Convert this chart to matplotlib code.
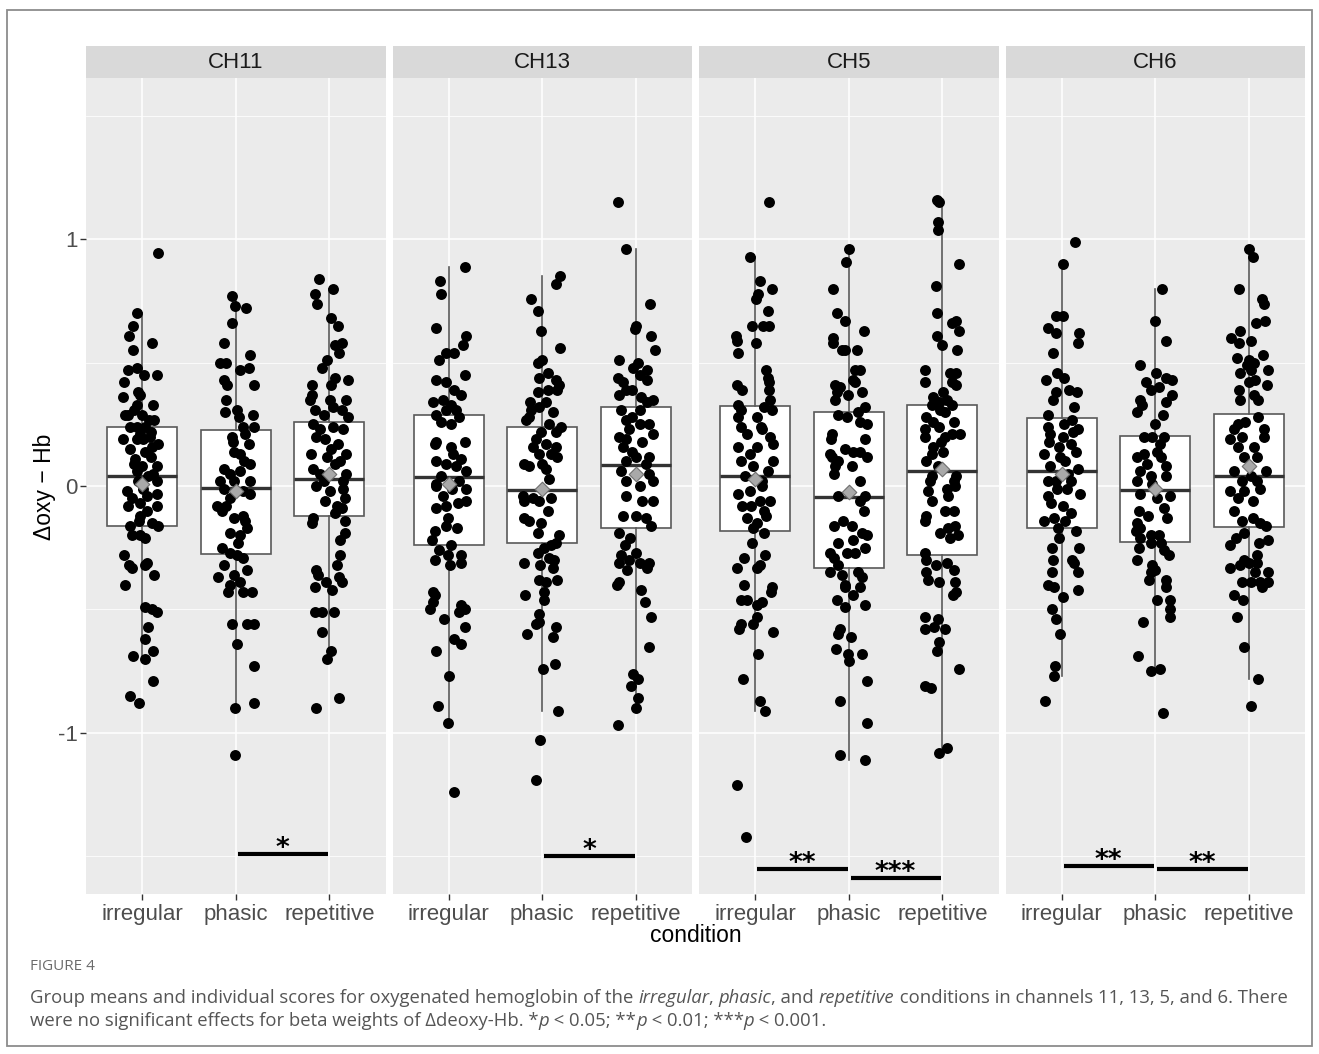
import matplotlib
matplotlib.use("Agg")
import matplotlib.pyplot as plt
from matplotlib.patches import Rectangle

channels = ["CH11", "CH13", "CH5", "CH6"]
conditions = ["irregular", "phasic", "repetitive"]

# individual scores, (jitter offset, value)
ch11_irregular = [
    (.17, .946), (-.05, .70), (-.10, .65), (-.14, .61), (.11, .58), (-.10, .55), (-.15, .47), (-.06, .48),
    (.02, .45), (.16, .45), (-.19, .42), (-.04, .38), (-.02, .37), (-.20, .36), (.12, .33), (-.06, .33),
    (-.09, .31), (-.18, .29), (-.15, .29), (0, .29), (.07, .27), (-.13, .24), (-.06, .24), (.03, .24),
    (.09, .22), (-.02, .21), (-.20, .19), (-.06, .19), (.01, .19), (.17, .17), (.10, .16), (-.13, .15),
    (.03, .14), (.09, .12), (-.09, .09), (0, .08), (.16, .08), (-.06, .06), (.12, .05), (-.04, .02),
    (.16, .02), (-.16, -.02), (.01, -.01), (.16, -.03), (.05, -.04), (-.15, -.08), (-.02, -.07), (.16, -.08),
    (.05, -.10), (-.02, -.12), (-.13, -.16), (.10, -.15), (.17, -.16), (-.11, -.20), (-.02, -.20), (.03, -.21),
    (-.19, -.28), (-.14, -.32), (-.11, -.33), (.05, -.31), (.03, -.32), (.13, -.36), (-.18, -.40), (.03, -.49),
    (.10, -.50), (.16, -.51), (.06, -.57), (.03, -.62), (.12, -.67), (-.10, -.69), (.03, -.70), (.12, -.79),
    (-.13, -.85), (-.03, -.88), (-.08, .11), (.06, .04), (-.11, -.05), (.08, .20), (-.03, -.14), (.13, .27),
]
ch11_phasic = [
    (-.04, .77), (-.01, .73), (.11, .72), (-.04, .66), (-.13, .58), (-.17, .50), (-.10, .50), (.15, .53),
    (.05, .47), (.14, .48), (-.13, .43), (-.09, .41), (.20, .41), (-.10, .35), (-.11, .30), (.01, .31),
    (.03, .28), (.18, .29), (.19, .24), (.08, .24), (.10, .21), (.14, .17), (-.04, .20), (-.02, .14),
    (.05, .13), (.15, .09), (-.13, .07), (-.06, .05), (.05, .06), (-.17, .02), (-.02, .02), (.15, .02),
    (-.13, -.01), (.08, -.02), (.15, -.03), (-.06, -.05), (-.20, -.08), (-.15, -.10), (-.02, -.13), (.08, -.12),
    (.10, -.14), (-.06, -.19), (.05, -.20), (-.15, -.25), (-.06, -.27), (.01, -.28), (.08, -.29), (-.13, -.32),
    (.12, -.34), (-.19, -.37), (-.02, -.36), (-.06, -.40), (.05, -.39), (-.08, -.43), (.08, -.43), (.17, -.43),
    (-.04, -.56), (.12, -.56), (.19, -.56), (.01, -.64), (.19, -.73), (-.01, -.90), (.19, -.88), (-.01, -1.09),
    (.09, .10), (-.10, -.08), (.12, -.17), (-.03, .18), (.02, -.23),
]
ch11_repetitive = [
    (-.11, .84), (.04, .80), (-.15, .78), (-.13, .74), (.02, .68), (.09, .65), (.06, .57), (.13, .58),
    (.10, .54), (-.03, .51), (-.08, .48), (.06, .44), (.20, .43), (.02, .41), (-.19, .41), (-.19, .37),
    (-.21, .35), (.01, .35), (.18, .35), (.04, .32), (-.15, .31), (-.06, .29), (.13, .31), (.20, .28),
    (-.17, .25), (-.10, .23), (.04, .24), (.15, .23), (-.14, .20), (-.05, .19), (.02, .15), (-.20, .13),
    (.18, .13), (.06, .09), (.11, .10), (-.17, .07), (-.10, .05), (.18, .05), (-.06, .02), (.15, .02),
    (-.14, 0), (.01, -.02), (.15, -.01), (.17, -.05), (-.05, -.06), (.08, -.08), (.13, -.09), (-.17, -.13),
    (-.19, -.15), (.06, -.11), (.17, -.14), (.17, -.19), (.11, -.22), (.11, -.28), (.08, -.32), (-.14, -.34),
    (-.12, -.36), (-.04, -.39), (.13, -.39), (.10, -.37), (-.15, -.41), (.03, -.42), (-.15, -.51), (-.08, -.51),
    (.05, -.51), (-.08, -.59), (.02, -.67), (-.02, -.70), (.10, -.86), (-.14, -.90), (-.02, .12), (.09, .17),
]
ch13_irregular = [
    (.17, .89), (-.09, .83), (-.08, .78), (-.14, .64), (.19, .61), (.15, .57), (-.03, .54), (.06, .54),
    (-.10, .51), (.17, .45), (-.14, .43), (-.03, .42), (.06, .39), (.13, .37), (-.06, .35), (-.17, .34),
    (.02, .33), (.08, .31), (-.14, .29), (-.03, .31), (.11, .28), (-.08, .26), (.02, .25), (-.14, .18),
    (.17, .18), (.02, .16), (-.15, .17), (.13, .11), (-.14, .10), (-.03, .09), (.08, .08), (.19, .06),
    (-.08, .04), (-.14, .01), (.11, .02), (-.14, 0), (.04, -.01), (.19, -.01), (-.14, -.09), (-.03, -.08),
    (.10, -.07), (.19, -.06), (-.01, -.13), (-.03, -.16), (-.15, -.18), (-.18, -.22), (.02, -.24), (-.10, -.26),
    (-.15, -.30), (-.01, -.28), (.13, -.28), (.01, -.32), (.13, -.31), (-.17, -.43), (-.15, -.44), (-.17, -.47),
    (-.20, -.50), (.13, -.48), (.11, -.51), (.17, -.50), (-.05, -.54), (.17, -.57), (.06, -.62), (.13, -.64),
    (-.14, -.67), (0, -.77), (-.11, -.89), (-.01, -.96), (.06, -1.24), (.05, .13), (-.06, -.04), (.09, -.17),
]
ch13_phasic = [
    (.19, .85), (.15, .82), (-.12, .76), (-.05, .71), (-.01, .63), (.19, .56), (-.05, .50), (0, .51),
    (.06, .46), (-.04, .44), (.15, .43), (.18, .41), (.06, .39), (-.05, .38), (.16, .39), (-.13, .34),
    (.04, .34), (-.12, .31), (-.03, .32), (.11, .30), (-.17, .27), (-.14, .28), (.20, .24), (.07, .25),
    (.15, .22), (-.01, .22), (-.07, .19), (.04, .17), (.15, .16), (-.10, .16), (-.03, .13), (.09, .13),
    (.16, .12), (-.19, .09), (-.14, .08), (0, .09), (.04, .07), (.07, .03), (-.21, -.04), (-.10, -.05),
    (.09, -.05), (-.19, -.06), (-.03, -.06), (.06, -.10), (-.19, -.13), (-.14, -.14), (-.01, -.15), (-.05, -.19),
    (.18, -.20), (.15, -.23), (.09, -.24), (.02, -.25), (-.05, -.27), (.07, -.29), (-.19, -.31), (-.02, -.32),
    (.13, -.30), (.11, -.33), (-.03, -.38), (.04, -.39), (.16, -.38), (.02, -.43), (-.18, -.44), (.02, -.46),
    (-.04, -.52), (-.07, -.56), (-.03, -.55), (-.16, -.60), (.15, -.57), (.11, -.61), (.01, -.74), (.14, -.72),
    (.17, -.91), (-.02, -1.03), (-.07, -1.19),
]
ch13_repetitive = [
    (-.19, 1.15), (-.10, .96), (.15, .74), (0, .65), (-.01, .635), (.16, .61), (.20, .55), (-.18, .51),
    (.02, .50), (-.03, .48), (.12, .47), (.04, .45), (-.19, .44), (-.14, .42), (.12, .43), (-.11, .39),
    (-.04, .39), (-.18, .37), (.05, .36), (.18, .35), (.12, .34), (-.16, .31), (.04, .31), (-.04, .28),
    (-.11, .27), (.04, .25), (.14, .25), (-.07, .23), (-.18, .20), (-.11, .19), (.07, .18), (.18, .21),
    (-.14, .16), (-.04, .14), (0, .12), (.14, .12), (-.11, .10), (.11, .09), (-.16, .06), (.14, .05),
    (-.11, .02), (.18, .02), (.04, 0), (-.11, -.04), (.07, -.06), (.18, -.06), (-.14, -.12), (0, -.12),
    (.11, -.13), (.16, -.16), (-.18, -.19), (-.06, -.21), (-.12, -.24), (-.16, -.28), (0, -.27), (-.07, -.30),
    (-.18, -.31), (.04, -.31), (.14, -.31), (-.09, -.34), (.12, -.33), (-.18, -.39), (-.20, -.40), (.06, -.42),
    (.10, -.47), (.16, -.53), (.14, -.65), (-.03, -.76), (.02, -.78), (-.05, -.81), (.02, -.86), (0, -.90),
    (-.19, -.97),
]
ch5_irregular = [
    (.15, 1.15), (-.05, .93), (.05, .83), (.18, .80), (.03, .78), (.01, .76), (.14, .71), (-.03, .65),
    (.08, .65), (.15, .65), (-.20, .61), (-.19, .59), (.01, .58), (-.18, .54), (.12, .47), (.14, .44),
    (.15, .42), (.15, .39), (-.19, .41), (-.14, .39), (-.18, .33), (-.15, .31), (.16, .35), (.09, .32),
    (.18, .31), (-.18, .28), (.02, .28), (-.15, .24), (.06, .24), (.07, .23), (-.09, .21), (.16, .20),
    (.19, .17), (-.18, .16), (.02, .16), (-.05, .13), (-.15, .10), (.19, .10), (-.02, .08), (.14, .06),
    (-.11, .04), (.07, .02), (-.18, -.03), (-.05, -.02), (.07, 0), (.16, -.06), (-.14, -.08), (-.04, -.08),
    (.05, -.06), (.09, -.10), (.12, -.12), (-.09, -.13), (.02, -.15), (.09, -.19), (-.02, -.17), (-.03, -.23),
    (-.12, -.29), (.11, -.28), (-.19, -.33), (.02, -.33), (.05, -.32), (-.12, -.40), (.18, -.41), (.17, -.43),
    (-.15, -.46), (-.09, -.46), (.02, -.48), (.07, -.47), (.02, -.53), (-.02, -.56), (-.15, -.56), (-.17, -.58),
    (.19, -.59), (.03, -.68), (-.13, -.78), (.05, -.87), (.11, -.91), (-.19, -1.21), (-.10, -1.42),
]
ch5_phasic = [
    (0, .96), (-.03, .91), (-.17, .80), (-.13, .70), (-.04, .67), (.16, .63), (-.17, .60), (-.17, .58),
    (-.07, .55), (-.04, .55), (.09, .55), (.07, .47), (.12, .47), (.05, .43), (.07, .42), (-.15, .41),
    (-.09, .40), (-.13, .38), (-.15, .35), (.14, .38), (-.01, .37), (.17, .32), (-.11, .29), (-.02, .28),
    (.10, .30), (.19, .25), (.12, .26), (-.18, .21), (-.19, .19), (-.04, .15), (.05, .14), (.17, .19),
    (-.20, .13), (-.18, .12), (-.11, .10), (.12, .14), (.19, .12), (-.15, .08), (.03, .08), (-.16, .05),
    (.12, .02), (-.11, -.04), (.12, -.06), (.17, -.04), (.16, -.10), (-.16, -.16), (-.06, -.14), (.03, -.16),
    (.14, -.19), (.19, -.20), (-.11, -.23), (.05, -.22), (-.02, -.27), (.07, -.27), (.17, -.25), (-.20, -.27),
    (-.16, -.29), (-.11, -.32), (-.20, -.35), (-.07, -.36), (-.04, -.40), (.10, -.35), (.14, -.37), (.05, -.44),
    (-.04, -.41), (.12, -.41), (.17, -.48), (-.13, -.46), (-.04, -.49), (-.09, -.58), (-.12, -.60), (.02, -.61),
    (-.14, -.66), (-.01, -.68), (0, -.71), (.14, -.68), (.19, -.79), (-.09, -.87), (.19, -.96), (-.09, -1.09),
    (.17, -1.11),
]
ch5_repetitive = [
    (-.06, 1.16), (-.04, 1.15), (-.05, 1.07), (-.05, 1.04), (.18, .90), (-.07, .81), (-.06, .70), (.10, .66),
    (.15, .67), (.18, .63), (-.06, .61), (0, .57), (.16, .55), (-.19, .47), (-.19, .42), (.08, .46),
    (.15, .46), (.10, .42), (.15, .41), (.01, .38), (-.10, .36), (-.11, .33), (-.04, .34), (.05, .35),
    (.10, .33), (-.02, .31), (.03, .30), (.12, .26), (-.17, .28), (-.10, .26), (-.19, .23), (-.04, .24),
    (.10, .21), (.19, .21), (.03, .20), (-.01, .18), (-.19, .20), (-.10, .16), (.01, .14), (-.11, .13),
    (-.17, .10), (-.05, .08), (.15, .04), (-.11, .04), (-.13, .02), (.12, .02), (-.15, -.02), (.05, -.01),
    (.14, 0), (-.11, -.06), (.06, -.04), (-.17, -.12), (-.19, -.14), (.03, -.10), (.12, -.10), (.06, -.17),
    (.14, -.16), (.17, -.20), (-.02, -.19), (.08, -.21), (-.19, -.27), (-.17, -.30), (-.07, -.32), (.05, -.31),
    (.12, -.34), (-.17, -.35), (-.15, -.38), (-.04, -.39), (.14, -.39), (.15, -.43), (.11, -.44), (-.19, -.53),
    (-.05, -.54), (-.19, -.58), (-.09, -.57), (.03, -.58), (-.04, -.63), (-.06, -.67), (.18, -.74), (-.19, -.81),
    (-.12, -.82), (.05, -1.06), (-.04, -1.08),
]
ch6_irregular = [
    (.14, .99), (.01, .90), (-.06, .69), (.01, .69), (-.15, .64), (-.06, .62), (.19, .62), (.17, .58),
    (-.09, .54), (-.17, .43), (-.05, .46), (.03, .44), (-.06, .38), (.08, .39), (.16, .38), (-.09, .35),
    (.13, .32), (-.15, .29), (.11, .27), (.17, .23), (-.15, .24), (-.12, .21), (.01, .20), (-.03, .16),
    (.10, .17), (-.19, .13), (.15, .14), (.04, .10), (-.12, .08), (.17, .07), (-.15, .02), (-.06, .02),
    (.10, .02), (-.15, -.04), (.20, -.03), (-.05, -.01), (.06, -.01), (.01, -.08), (.10, -.11), (-.19, -.14),
    (-.08, -.13), (.04, -.14), (.15, -.18), (-.03, -.21), (-.10, -.25), (.19, -.25), (-.09, -.30), (.11, -.30),
    (.13, -.31), (-.10, -.35), (.17, -.35), (-.15, -.40), (-.08, -.41), (.17, -.42), (.01, -.45), (-.10, -.50),
    (-.06, -.54), (-.02, -.60), (-.07, -.73), (-.08, -.77), (-.18, -.87), (-.02, .12), (.07, .05), (-.11, -.07),
    (.03, .25), (-.04, -.17), (.12, .22), (-.13, .18),
]
ch6_phasic = [
    (.07, .80), (0, .67), (.11, .59), (-.16, .49), (.01, .46), (-.10, .42), (.12, .44), (.18, .43),
    (-.05, .39), (.04, .40), (-.16, .35), (-.19, .30), (-.14, .33), (.11, .34), (.18, .37), (0, .25),
    (-.12, .20), (.09, .20), (-.03, .20), (-.19, .12), (-.12, .13), (.02, .14), (.06, .12), (-.09, .09),
    (.11, .08), (-.16, .06), (-.05, .04), (.12, .04), (-.19, .02), (-.03, .01), (-.16, -.03), (.02, -.05),
    (.16, -.04), (.09, -.09), (.13, -.13), (-.17, -.10), (-.19, -.15), (-.16, -.17), (-.05, -.20), (.04, -.20),
    (-.21, -.18), (-.16, -.21), (-.05, -.23), (.06, -.23), (-.17, -.25), (.09, -.26), (.15, -.28), (-.19, -.30),
    (-.03, -.32), (-.05, -.35), (0, -.34), (-.07, -.38), (.11, -.38), (.11, -.41), (.02, -.46), (.16, -.46),
    (.16, -.50), (.16, -.53), (-.13, -.55), (-.18, -.69), (-.05, -.75), (.05, -.74), (.08, -.92), (.05, .17),
    (-.08, -.12), (.08, .29),
]
ch6_repetitive = [
    (0, .96), (.04, .93), (-.11, .80), (.14, .76), (.16, .74), (.08, .66), (.17, .67), (-.09, .63),
    (-.19, .60), (-.10, .58), (.02, .59), (-.13, .52), (.15, .53), (0, .51), (.05, .50), (-.02, .49),
    (.20, .47), (-.09, .46), (.02, .47), (0, .42), (.07, .43), (.19, .41), (-.11, .39), (.05, .37),
    (-.09, .35), (.10, .35), (.10, .28), (-.12, .25), (-.04, .26), (-.16, .23), (.16, .23), (.16, .20),
    (-.07, .20), (-.20, .19), (.05, .16), (-.12, .16), (.09, .12), (-.05, .12), (-.16, .06), (.18, .06),
    (-.07, .02), (.09, .02), (.02, .04), (-.20, -.02), (-.05, -.02), (.12, -.01), (-.12, -.05), (.04, -.06),
    (-.16, -.10), (-.07, -.14), (.04, -.13), (.12, -.15), (.18, -.16), (-.05, -.19), (-.14, -.21), (-.20, -.24),
    (.11, -.23), (.20, -.22), (.09, -.28), (.09, -.31), (-.05, -.30), (-.20, -.33), (-.09, -.32), (0, -.31),
    (.07, -.35), (.20, -.35), (.12, -.39), (.20, -.39), (.14, -.41), (-.07, -.39), (.02, -.39), (-.16, -.44),
    (-.06, -.46), (-.13, -.53), (-.05, -.65), (.10, -.78), (.02, -.89),
]

# box statistics per channel, in condition order
q1_vals = {"CH11": [-.16, -.275, -.12], "CH13": [-.24, -.23, -.17],
           "CH5": [-.18, -.33, -.28], "CH6": [-.17, -.225, -.165]}
median_vals = {"CH11": [.04, -.006, .03], "CH13": [.035, -.016, .084],
               "CH5": [.04, -.043, .06], "CH6": [.061, -.016, .04]}
q3_vals = {"CH11": [.24, .226, .26], "CH13": [.29, .24, .32],
           "CH5": [.324, .30, .327], "CH6": [.276, .205, .294]}
whisk_lo = {"CH11": [-.70, -.90, -.70], "CH13": [-.96, -.91, -.88],
            "CH5": [-.91, -1.11, -1.08], "CH6": [-.77, -.75, -.78]}
whisk_hi = {"CH11": [.70, .77, .80], "CH13": [.89, .85, .96],
            "CH5": [.93, .96, 1.16], "CH6": [.90, .80, .96]}
mean_vals = {"CH11": [.01, -.02, .05], "CH13": [.01, -.01, .05],
             "CH5": [.03, -.023, .07], "CH6": [.05, -.01, .08]}

# significance brackets: (from condition, to condition, height, label)
sig_marks = {
    "CH11": [(2, 3, -1.49, "*")],
    "CH13": [(2, 3, -1.50, "*")],
    "CH5": [(1, 2, -1.55, "**"), (2, 3, -1.59, "***")],
    "CH6": [(1, 2, -1.54, "**"), (2, 3, -1.55, "**")],
}

points = {
    "CH11": [ch11_irregular, ch11_phasic, ch11_repetitive],
    "CH13": [ch13_irregular, ch13_phasic, ch13_repetitive],
    "CH5": [ch5_irregular, ch5_phasic, ch5_repetitive],
    "CH6": [ch6_irregular, ch6_phasic, ch6_repetitive],
}

W, H = 1319, 1054
fig = plt.figure(figsize=(W / 100, H / 100), dpi=100)
plt.rcParams["font.family"] = ["Liberation Sans", "DejaVu Sans"]

panel_left = [86, 392.5, 699, 1005.5]
panel_w = 299.5
panel_top, panel_bot = 78, 894
strip_h = 32
px_per_unit = 246.8

for i, ch in enumerate(channels):
    ax = fig.add_axes([panel_left[i] / W, (H - panel_bot) / H, panel_w / W, (panel_bot - panel_top) / H])
    ax.set_facecolor("#ebebeb")
    for s in ax.spines.values():
        s.set_visible(False)

    stats = []
    for j in range(3):
        stats.append(dict(q1=q1_vals[ch][j], med=median_vals[ch][j], q3=q3_vals[ch][j],
                          whislo=whisk_lo[ch][j], whishi=whisk_hi[ch][j], fliers=[]))
    ax.bxp(stats, positions=[1, 2, 3], widths=0.75, showfliers=False, showcaps=False,
           patch_artist=True, manage_ticks=False,
           boxprops=dict(facecolor="white", edgecolor="#595959", lw=1.2),
           whiskerprops=dict(color="#595959", lw=1.2),
           medianprops=dict(color="#333333", lw=2.4), zorder=2)

    ax.set_xlim(0.4, 3.6)
    ax.set_ylim(-1.653, 1.654)
    ax.set_xticks([1, 2, 3])
    ax.set_xticklabels(conditions)
    ax.set_yticks([-1, 0, 1])
    ax.set_yticks([-1.5, -0.5, 0.5, 1.5], minor=True)
    ax.set_yticklabels(["-1", "0", "1"])
    ax.grid(which="major", color="white", lw=1.1)
    ax.grid(which="minor", axis="y", color="white", lw=0.55)
    ax.set_axisbelow(True)
    ax.tick_params(axis="x", length=4, width=1, color="#333333", labelsize=16, labelcolor="#4d4d4d", pad=3)
    ax.tick_params(axis="y", which="major", length=4, width=1, color="#333333", labelsize=16,
                   labelcolor="#4d4d4d", pad=2)
    ax.tick_params(axis="y", which="minor", length=0)
    if i > 0:
        ax.tick_params(axis="y", which="major", length=0, labelleft=False)

    for j in range(3):
        pts = points[ch][j]
        xs = [j + 1 + p[0] for p in pts]
        ys = [p[1] for p in pts]
        ax.scatter(xs, ys, s=62, color="black", linewidths=0, zorder=3)
    ax.scatter([1, 2, 3], mean_vals[ch], marker="D", s=55, color="#a9a9a9",
               edgecolors="#6e6e6e", linewidths=0.8, zorder=4)

    for a, b, yv, lab in sig_marks[ch]:
        ax.plot([a + 0.02, b - 0.01], [yv, yv], color="black", lw=3, solid_capstyle="butt", zorder=5)
        ax.text((a + b) / 2, yv - 2 / px_per_unit, lab, ha="center", va="baseline", fontsize=19,
                fontweight="bold", family="DejaVu Sans", zorder=5)

    # facet strip
    ax.add_patch(Rectangle((0, 1), 1, strip_h / (panel_bot - panel_top), transform=ax.transAxes,
                           facecolor="#d9d9d9", edgecolor="none", clip_on=False))
    ax.text(0.5, 1 + strip_h / 2 / (panel_bot - panel_top), ch, transform=ax.transAxes,
            ha="center", va="center", fontsize=16, color="#1a1a1a")

fig.text(44 / W, (H - 487) / H, "Δoxy − Hb", rotation=90, ha="center", va="center",
         fontsize=16.5, color="black")
fig.text(695.5 / W, (H - 935) / H, "condition", ha="center", va="center", fontsize=16.5, color="black")

# outer frame
fig.patches.append(Rectangle((7 / W, (H - 1046) / H), 1305 / W, 1036 / H, transform=fig.transFigure,
                             facecolor="none", edgecolor="#8c8c8c", lw=1.3))

cap_font = ["Open Sans", "DejaVu Sans"]
fig.text(30 / W, (H - 966) / H, "FIGURE 4", ha="left", va="center", fontsize=11,
         color="#6b6b6b", family=cap_font)

renderer = fig.canvas.get_renderer()


def rich_line(x_px, y_px, parts, size=13.3, color="#555555"):
    x = x_px / W
    for txt, italic in parts:
        t = fig.text(x, (H - y_px) / H, txt, ha="left", va="center", fontsize=size, color=color,
                     family=cap_font, style="italic" if italic else "normal")
        bb = t.get_window_extent(renderer=renderer)
        x += bb.width / W


rich_line(30, 998, [("Group means and individual scores for oxygenated hemoglobin of the ", False),
                    ("irregular", True), (", ", False), ("phasic", True), (", and ", False),
                    ("repetitive", True), (" conditions in channels 11, 13, 5, and 6. There", False)])
rich_line(30, 1021, [("were no significant effects for beta weights of Δdeoxy-Hb. *", False), ("p", True),
                     (" < 0.05; **", False), ("p", True), (" < 0.01; ***", False), ("p", True),
                     (" < 0.001.", False)])

fig.savefig("out.png", dpi=100, facecolor="white")
